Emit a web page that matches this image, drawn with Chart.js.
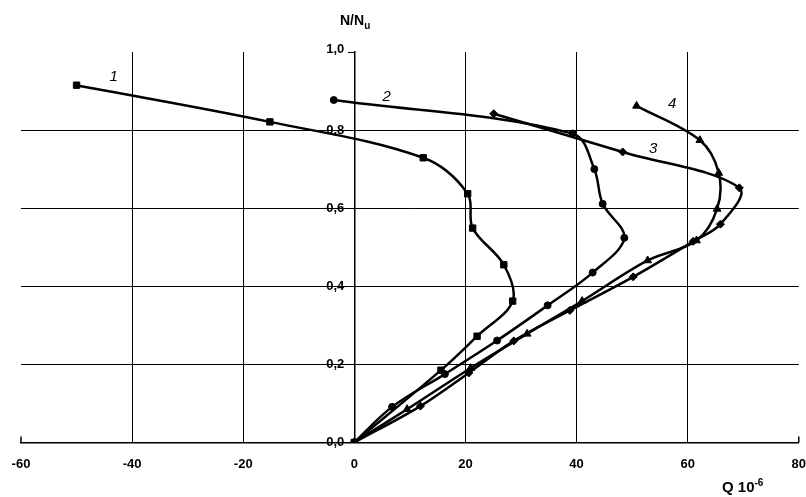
<!DOCTYPE html>
<html>
<head>
<meta charset="utf-8">
<script src="https://cdn.jsdelivr.net/npm/chart.js@4.4.1/dist/chart.umd.min.js"></script>
<style>
  body { margin: 0; background: #fff; }
  #wrap { position: relative; width: 806px; height: 497px; }
  .ttl { position: absolute; font-family: "Liberation Sans", Arial, sans-serif; font-weight: bold; color: #000; line-height: 1; }
</style>
</head>
<body>
<div id="wrap">
  <canvas id="myChart" width="806" height="497"></canvas>
  <div class="ttl" style="left:340px; top:13px; font-size:14px">N/N<sub style="font-size:10px">u</sub></div>
  <div class="ttl" style="left:722px; top:478px; font-size:15px">Q 10<sup style="font-size:10px">-6</sup></div>
</div>
<script>
// curve 1 (squares)
const q1 = [-50.0, -15.2, 12.4, 20.4, 21.3, 26.9, 28.5, 22.1, 15.6, 0];
const n1 = [0.915, 0.821, 0.729, 0.637, 0.549, 0.455, 0.362, 0.272, 0.185, 0];
// curve 2 (circles)
const q2 = [-3.7, 39.3, 43.2, 44.7, 48.6, 42.9, 34.8, 25.7, 16.3, 6.8, 0];
const n2 = [0.877, 0.791, 0.700, 0.611, 0.524, 0.435, 0.351, 0.261, 0.175, 0.091, 0];
// curve 3 (diamonds)
const q3 = [25.1, 48.3, 69.3, 65.9, 61.0, 50.2, 38.8, 28.7, 20.6, 11.9, 0];
const n3 = [0.842, 0.744, 0.652, 0.559, 0.515, 0.424, 0.338, 0.260, 0.178, 0.093, 0];
// curve 4 (triangles)
const q4 = [50.8, 62.2, 65.6, 65.3, 61.6, 52.8, 41.0, 31.1, 20.9, 9.5, 0];
const n4 = [0.862, 0.774, 0.690, 0.598, 0.517, 0.466, 0.362, 0.278, 0.190, 0.085, 0];

// curve numbers, placed in data units
const labelText = ['1', '2', '3', '4'];
const labelQ = [-43.3, 5.8, 53.8, 57.2];
const labelN = [0.936, 0.884, 0.751, 0.866];

const toPts = (xs, ys) => xs.map((x, i) => ({ x: x, y: ys[i] }));

function curve(name, xs, ys, style, r) {
  return {
    label: name,
    data: toPts(xs, ys),
    showLine: true,
    borderColor: '#000',
    backgroundColor: '#000',
    borderWidth: 2.5,
    pointStyle: style,
    pointRadius: r,
    pointBorderWidth: 1,
    tension: 0.35
  };
}

// y labels sit left of the centre axis, plus curve numbers and end ticks
const extras = {
  id: 'extras',
  afterDraw(chart) {
    const { ctx, scales: { x, y } } = chart;
    const x0 = x.getPixelForValue(0);
    ctx.save();
    ctx.fillStyle = '#000';
    ctx.font = 'bold 13px "Liberation Sans", Arial, sans-serif';
    ctx.textAlign = 'right';
    ctx.textBaseline = 'middle';
    y.ticks.forEach(t => {
      ctx.fillText(t.value.toFixed(1).replace('.', ','), x0 - 10, y.getPixelForValue(t.value) - (t.value > 0.99 ? 3 : 0));
    });

    ctx.font = 'italic 15px "Liberation Sans", Arial, sans-serif';
    ctx.textAlign = 'center';
    labelText.forEach((t, i) => {
      ctx.fillText(t, x.getPixelForValue(labelQ[i]), y.getPixelForValue(labelN[i]));
    });

    ctx.strokeStyle = '#000';
    ctx.lineWidth = 1.5;
    const yb = y.getPixelForValue(0);
    [x.min, x.max].forEach(v => {
      const px = x.getPixelForValue(v);
      ctx.beginPath();
      ctx.moveTo(px, yb);
      ctx.lineTo(px, yb - 6);
      ctx.stroke();
    });
    ctx.restore();
  }
};

const ctx = document.getElementById('myChart').getContext('2d');
new Chart(ctx, {
  type: 'scatter',
  data: {
    datasets: [
      curve('1', q1, n1, 'rect', 4.5),
      curve('2', q2, n2, 'circle', 3.5),
      curve('3', q3, n3, 'rectRot', 4),
      curve('4', q4, n4, 'triangle', 4.5)
    ]
  },
  options: {
    responsive: false,
    animation: false,
    layout: { padding: { left: 21, right: 7, top: 52, bottom: 25 } },
    plugins: { legend: { display: false }, tooltip: { enabled: false } },
    scales: {
      x: {
        type: 'linear',
        min: -60,
        max: 80,
        ticks: { stepSize: 20, color: '#000', padding: 0, font: { family: 'Liberation Sans', size: 13, weight: 'bold' } },
        grid: {
          color: c => (c.tick && (c.tick.value <= -60 || c.tick.value === 0 || c.tick.value >= 80)) ? 'rgba(0,0,0,0)' : '#000',
          tickColor: 'rgba(0,0,0,0)',
          tickLength: 14,
          lineWidth: 1
        },
        border: { color: '#000', width: 1.5 }
      },
      y: {
        type: 'linear',
        position: { x: 0 },
        min: 0,
        max: 1,
        ticks: { stepSize: 0.2, display: false },
        grid: {
          color: c => (c.tick && c.tick.value > 0.01 && c.tick.value < 0.99) ? '#000' : 'rgba(0,0,0,0)',
          tickColor: c => (c.tick && c.tick.value > 0.99) ? '#000' : 'rgba(0,0,0,0)',
          tickLength: 6,
          lineWidth: 1
        },
        border: { color: '#000', width: 1.5 }
      }
    }
  },
  plugins: [extras]
});
</script>
</body>
</html>
